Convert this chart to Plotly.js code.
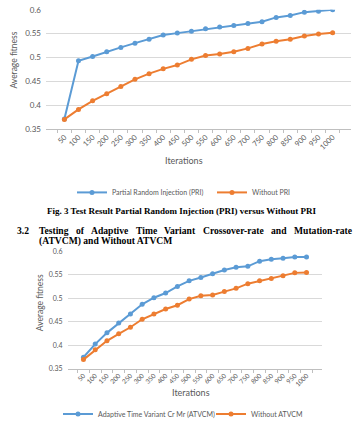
<!DOCTYPE html>
<html>
<head>
<meta charset="utf-8">
<script src="https://cdn.plot.ly/plotly-3.0.1.min.js"></script>
<style>html,body{margin:0;padding:0;background:#fff;}#chart{width:364px;height:429px;}</style>
</head>
<body>
<div id="chart"></div>
<script>
// ---- data ----
const iterations = ['50','100','150','200','250','300','350','400','450','500','550','600','650','700','750','800','850','900','950','1000'];
const priValues = [0.371,0.493,0.502,0.512,0.521,0.530,0.538,0.547,0.551,0.555,0.560,0.564,0.567,0.571,0.575,0.584,0.588,0.595,0.597,0.600];
const withoutPriValues = [0.370,0.391,0.409,0.424,0.439,0.454,0.466,0.476,0.484,0.496,0.504,0.507,0.512,0.519,0.528,0.534,0.538,0.545,0.549,0.552];
const atvcmValues = [0.374,0.402,0.426,0.447,0.466,0.487,0.501,0.511,0.525,0.537,0.544,0.552,0.560,0.566,0.568,0.579,0.583,0.585,0.588,0.588];
const withoutAtvcmValues = [0.369,0.390,0.409,0.424,0.438,0.455,0.466,0.477,0.485,0.498,0.505,0.507,0.514,0.521,0.531,0.537,0.542,0.548,0.554,0.555];
const seriesNames = ['Partial Random Injection (PRI)','Without PRI','Adaptive Time Variant Cr Mr (ATVCM)','Without ATVCM'];
const yTickVals = [0.35,0.4,0.45,0.5,0.55,0.6];
const yTickText = ['0.35','0.4','0.45','0.5','0.55','0.6'];
const headingLine1 = 'Testing of Adaptive Time Variant Crossover-rate and Mutation-rate';
const headingLine2 = '(ATVCM) and Without ATVCM';
const captionText = 'Fig. 3 Test Result Partial Random Injection (PRI) versus Without PRI';

const W = 364, H = 429;
const px = x => x / W;
const py = y => 1 - y / H;
const BLUE = '#5B9BD5', ORANGE = '#ED7D31', GRAY = '#595959';
const SANS = 'Lato, "Liberation Sans", sans-serif';
const SERIF = '"Liberation Serif", "DejaVu Serif", serif';

function series(y, name, color, xa, ya, leg) {
  return {x: iterations, y: y, name: name, type: 'scatter', mode: 'lines+markers',
    xaxis: xa, yaxis: ya, legend: leg,
    line: {color: color, width: 2}, marker: {color: color, size: 5, symbol: 'circle'}};
}
const data = [
  series(priValues, seriesNames[0], BLUE, 'x', 'y', 'legend'),
  series(withoutPriValues, seriesNames[1], ORANGE, 'x', 'y', 'legend'),
  series(atvcmValues, seriesNames[2], BLUE, 'x2', 'y2', 'legend2'),
  series(withoutAtvcmValues, seriesNames[3], ORANGE, 'x2', 'y2', 'legend2')
];

function xAxis(domain, anchor, fs) {
  return {domain: domain, anchor: anchor, type: 'category', tickangle: -45,
    tickfont: {family: SANS, size: fs, color: GRAY}, showgrid: false,
    showline: true, linecolor: '#BFBFBF', linewidth: 1, ticks: 'outside', tickson: 'boundaries',
    ticklen: 3, tickcolor: '#BFBFBF', zeroline: false, fixedrange: true};
}
function yAxis(domain, anchor, fs) {
  return {domain: domain, anchor: anchor, range: [0.35, 0.6], tickvals: yTickVals, ticktext: yTickText,
    tickfont: {family: SANS, size: fs, color: GRAY}, showgrid: true, gridcolor: '#D9D9D9', gridwidth: 1,
    showline: false, zeroline: false, ticks: '', ticklabelstandoff: 4, fixedrange: true};
}

function ann(text, x, y, opts) {
  return Object.assign({text: text, x: px(x), y: py(y), xref: 'paper', yref: 'paper', showarrow: false,
    xanchor: 'center', yanchor: 'middle', font: {family: SANS, size: 8.5, color: GRAY}}, opts || {});
}
const HEAD_SIZE = 9.6;
const headFont = {family: SERIF, size: HEAD_SIZE, color: '#000'};
const annotations = [
  ann('Average fitness', 14, 62, {textangle: -90}),
  ann('Iterations', 184, 164, {font: {family: SANS, size: 9, color: GRAY}}),
  ann('<b>' + captionText + '</b>', 181, 216, {font: {family: SERIF, size: 9, color: '#000'}}),
  ann('<b>3.2</b>', 15, 236.5, {xanchor: 'left', font: headFont}),
  ann('<b>' + headingLine2 + '</b>', 37, 247, {xanchor: 'left', font: headFont}),
  ann('Average fitness', 40, 310.5, {textangle: -90}),
  ann('Iterations', 190.5, 402, {font: {family: SANS, size: 9, color: GRAY}})
];
// justified first heading line (word positions computed from measured widths)
(function () {
  const ctx = document.createElement('canvas').getContext('2d');
  ctx.font = 'bold ' + HEAD_SIZE + 'px "Liberation Serif"';
  const words = headingLine1.split(' ');
  const widths = words.map(w => ctx.measureText(w).width);
  const x0 = 37, x1 = 350;
  const gap = (x1 - x0 - widths.reduce((a, b) => a + b, 0)) / (words.length - 1);
  let x = x0;
  words.forEach((w, i) => {
    annotations.push(ann('<b>' + w + '</b>', x, 236.5, {xanchor: 'left', font: headFont}));
    x += widths[i] + gap;
  });
})();

const layout = {
  width: W, height: H, margin: {l: 0, r: 0, t: 0, b: 0}, paper_bgcolor: '#fff', plot_bgcolor: '#fff',
  showlegend: true,
  xaxis: xAxis([px(46), px(351)], 'y', 7.5),
  yaxis: yAxis([py(132), py(10)], 'x', 8),
  xaxis2: xAxis([px(67.6), px(322.4)], 'y2', 6.5),
  yaxis2: yAxis([py(377.3), py(257.3)], 'x2', 7),
  legend: {orientation: 'h', x: px(72), y: py(197), xanchor: 'left', yanchor: 'middle', font: {family: SANS, size: 7, color: GRAY}, bgcolor: 'rgba(0,0,0,0)', itemwidth: 30, entrywidth: 95, entrywidthmode: 'pixels'},
  legend2: {orientation: 'h', x: px(62), y: py(424), xanchor: 'left', yanchor: 'middle', font: {family: SANS, size: 7, color: GRAY}, bgcolor: 'rgba(0,0,0,0)', itemwidth: 30, entrywidth: 108, entrywidthmode: 'pixels'},
  annotations: annotations
};
Plotly.newPlot('chart', data, layout, {displayModeBar: false, staticPlot: true});
</script>
</body>
</html>
